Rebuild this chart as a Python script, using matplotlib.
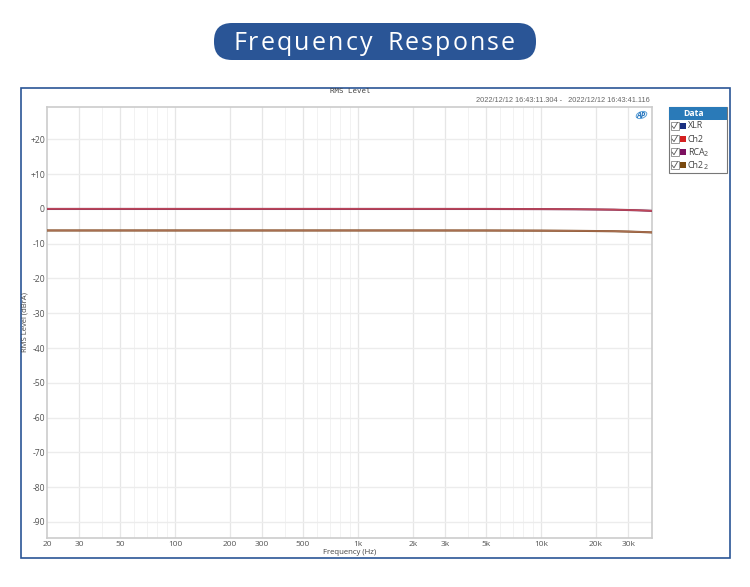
import matplotlib
matplotlib.use("Agg")
import matplotlib.pyplot as plt
from matplotlib.patches import Ellipse, FancyBboxPatch, Rectangle

plt.rcParams['font.family'] = ['Open Sans', 'DejaVu Sans']

freq = [20, 50, 100, 200, 500, 1000, 2000, 5000, 10000, 15000, 20000, 25000, 30000, 35000, 40000]
xlr = [0.0, 0.0, 0.0, 0.0, 0.0, 0.0, 0.0, -0.01, -0.05, -0.1, -0.16, -0.22, -0.32, -0.43, -0.55]
ch2 = [0.02, 0.02, 0.02, 0.02, 0.02, 0.02, 0.02, 0.01, -0.03, -0.08, -0.14, -0.2, -0.3, -0.41, -0.53]
rca = [-6.2, -6.2, -6.2, -6.2, -6.2, -6.2, -6.2, -6.21, -6.25, -6.3, -6.36, -6.42, -6.52, -6.63, -6.75]
ch2_2 = [-6.18, -6.18, -6.18, -6.18, -6.18, -6.18, -6.18, -6.19, -6.23, -6.28, -6.34, -6.4, -6.5, -6.61, -6.73]

major_x = [20, 30, 50, 100, 200, 300, 500, 1000, 2000, 3000, 5000, 10000, 20000, 30000]
major_x_labels = ['20', '30', '50', '100', '200', '300', '500', '1k', '2k', '3k', '5k', '10k', '20k', '30k']
minor_x = [40, 60, 70, 80, 90, 400, 600, 700, 800, 900, 4000, 6000, 7000, 8000, 9000]
y_ticks = [20, 10, 0, -10, -20, -30, -40, -50, -60, -70, -80, -90]
y_labels = ['+20', '+10', '0', '-10', '-20', '-30', '-40', '-50', '-60', '-70', '-80', '-90']

legend_names = ['XLR', 'Ch2', 'RCA', 'Ch2']
legend_subs = ['', '', '2', '2']
legend_colors = ['#1a2f80', '#d42020', '#7d1060', '#7a4a10']
title = 'Frequency Response'

W, H = 750, 587
fig = plt.figure(figsize=(W / 100, H / 100), dpi=100)

# whole-figure overlay in pixel coords, y going down
bg = fig.add_axes([0, 0, 1, 1])
bg.set_xlim(0, W)
bg.set_ylim(H, 0)
bg.axis('off')
bg.add_patch(FancyBboxPatch((214, 23), 322, 37, boxstyle="round,pad=0,rounding_size=18",
                            fc='#2a5596', ec='none'))

# title has wide letter spacing, so place it letter by letter
renderer = fig.canvas.get_renderer()
spacing = 2.2
word_gap = 4
widths = []
for i in range(len(title)):
    # width of the prefix keeps the kerning
    t = bg.text(0, 0, title[:i + 1].replace(' ', 'i'), fontsize=18)
    widths.append(t.get_window_extent(renderer).width)
    t.remove()
x = 233
for i, ch in enumerate(title):
    offset = widths[i - 1] if i else 0
    if i > title.index(' '):
        offset += word_gap
    bg.text(x + offset + i * spacing, 40.5, ch, color='white', fontsize=18, ha='left', va='center_baseline')

bg.add_patch(Rectangle((20.5, 87.5), 709, 470, fc='white', ec='#2a5596', lw=1.2))
bg.text(350, 91, 'RMS Level', fontsize=5.3, family=['DejaVu Sans Mono'], color='#444444', ha='center', va='center')
bg.text(476, 101, '2022/12/12 16:43:11.304 -   2022/12/12 16:43:41.116', fontsize=5.35,
        family=['Liberation Sans'], color='#666666', va='center')

# AP logo
bg.add_patch(Ellipse((641.5, 115), 11, 6.5, angle=-20, fc='none', ec='#5aa0d8', lw=0.7))
bg.text(641, 115, 'AP', fontsize=5.5, color='#2a78c0', style='italic', weight='bold', ha='center', va='center')

# data panel
bg.add_patch(Rectangle((668.5, 107), 58.5, 66, fc='white', ec='#777777', lw=0.8))
bg.add_patch(Rectangle((669, 107), 58, 13, fc='#2a7ab8', ec='none'))
bg.text(694, 113.5, 'Data', color='white', fontsize=6.2, weight='bold', ha='center', va='center')
for i, name in enumerate(legend_names):
    y = 126 + i * 13.1
    bg.add_patch(Rectangle((670.5, y - 4), 8, 8, fc='white', ec='#888888', lw=0.6))
    bg.plot([672, 674, 677.5], [y, y + 2.5, y - 3.5], color='#555555', lw=0.6)
    bg.add_patch(Rectangle((680, y - 3), 6, 6, fc=legend_colors[i], ec='none'))
    bg.text(688, y, name, fontsize=6.4, color='#444444', va='center')
    if legend_subs[i]:
        bg.text(704, y + 2.5, legend_subs[i], fontsize=5, color='#444444', va='center')

ax = fig.add_axes([47 / W, 1 - 538 / H, (652 - 47) / W, (538 - 107) / H])
ax.set_xscale('log')
ax.set_xlim(20, 40400)
ax.set_ylim(-94.6, 29.3)
ax.patch.set_alpha(0)

for v in major_x[1:]:
    ax.axvline(v, color='#e6e6e6', lw=0.9, zorder=1)
for v in minor_x:
    ax.axvline(v, color='#f2f2f2', lw=0.7, zorder=1)
for v in y_ticks:
    ax.axhline(v, color='#ececec', lw=1.0, zorder=1)

ax.plot(freq, xlr, color='#7d2a55', lw=1.5, zorder=3)
ax.plot(freq, ch2, color='#c0485a', lw=1.1, zorder=4)
ax.plot(freq, rca, color='#7a4a20', lw=1.5, zorder=3)
ax.plot(freq, ch2_2, color='#a86e50', lw=1.1, zorder=4)

ax.set_xticks(major_x)
ax.set_xticklabels(major_x_labels)
ax.set_xticks([], minor=True)
ax.set_yticks(y_ticks)
ax.set_yticklabels(y_labels)
ax.tick_params(axis='x', length=0, labelsize=6, labelcolor='#555555', pad=2)
ax.tick_params(axis='y', length=0, labelsize=6.2, labelcolor='#555555', pad=1.5)
for s in ax.spines.values():
    s.set_color('#cccccc')
    s.set_linewidth(1.2)

bg.text(349.5, 553, 'Frequency (Hz)', fontsize=5.6, color='#444444', ha='center', va='center')
bg.text(25.5, 322, 'RMS Level (dBrA)', fontsize=5.5, color='#444444', rotation=90, ha='center', va='center')

fig.savefig('out.png', dpi=100)
